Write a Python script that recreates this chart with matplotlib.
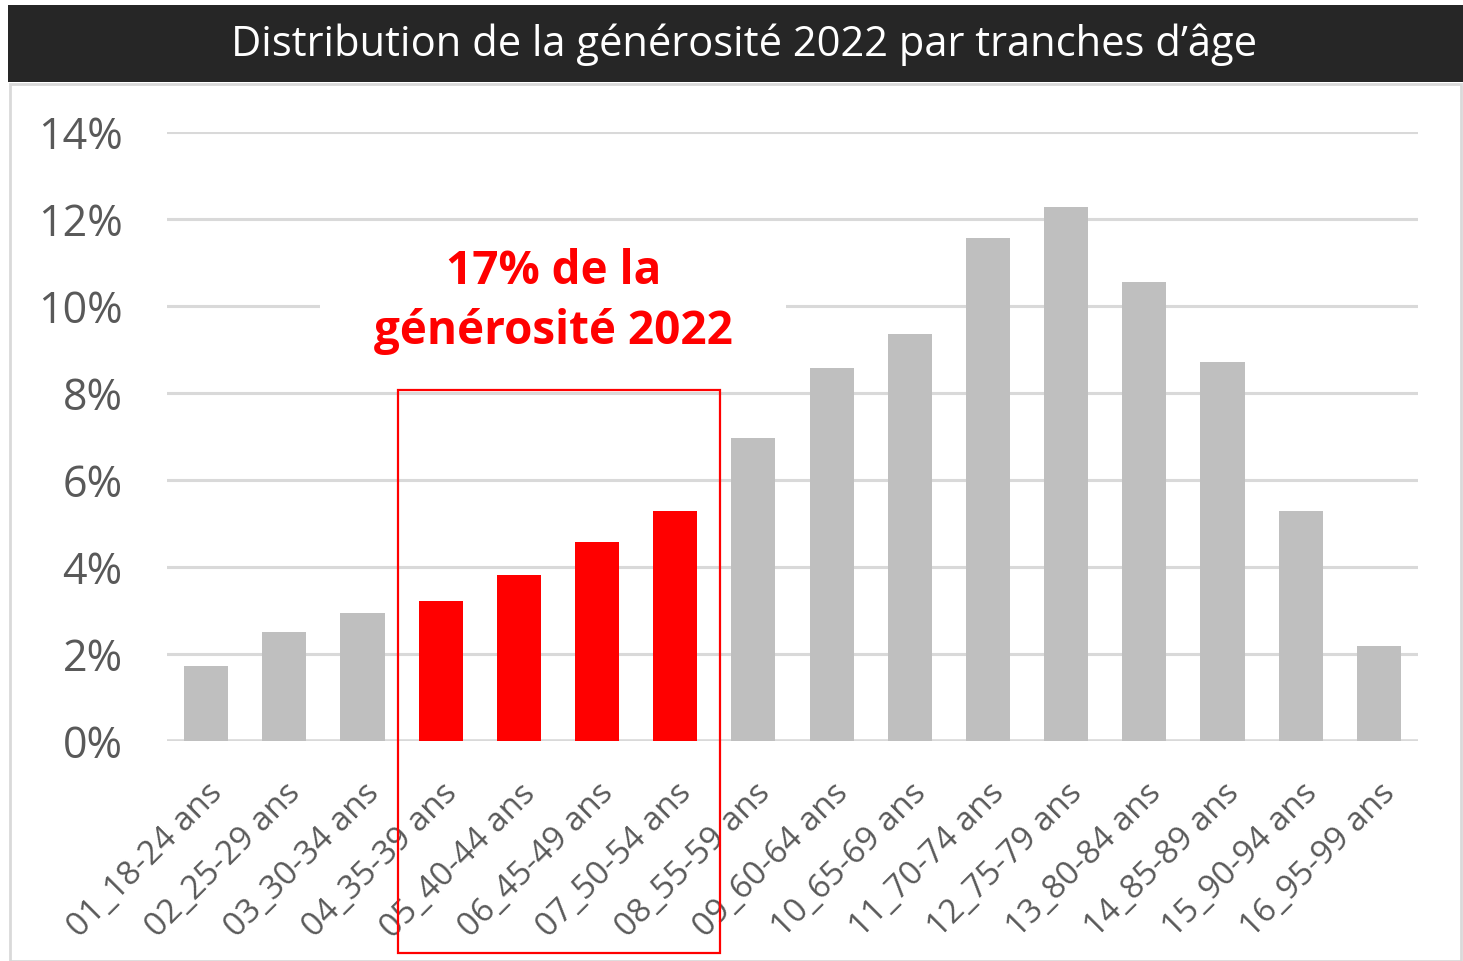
#!/usr/bin/env python3
"""Distribution de la générosité 2022 par tranches d'âge - bar chart."""

import matplotlib
matplotlib.use("Agg")
import matplotlib.pyplot as plt
from matplotlib.patches import Rectangle
from matplotlib.transforms import ScaledTranslation

# Data
age_labels = [
    "01_18-24 ans", "02_25-29 ans", "03_30-34 ans", "04_35-39 ans",
    "05_40-44 ans", "06_45-49 ans", "07_50-54 ans", "08_55-59 ans",
    "09_60-64 ans", "10_65-69 ans", "11_70-74 ans", "12_75-79 ans",
    "13_80-84 ans", "14_85-89 ans", "15_90-94 ans", "16_95-99 ans",
]
share_pct = [1.72, 2.51, 2.94, 3.22, 3.82, 4.57, 5.29, 6.97,
             8.57, 9.36, 11.56, 12.28, 10.55, 8.71, 5.29, 2.18]
highlighted = [3, 4, 5, 6]
y_ticks = [0, 2, 4, 6, 8, 10, 12, 14]

title = "Distribution de la générosité 2022 par tranches d’âge"
note = "17% de la\ngénérosité 2022"

GREY = "#bfbfbf"
RED = "#ff0000"
GRID = "#d9d9d9"
TEXT = "#595959"

plt.rcParams["font.family"] = ["Open Sans", "DejaVu Sans"]

W, H = 1463, 961
fig = plt.figure(figsize=(W / 100, H / 100), dpi=100)

# title bar and outer frame (outline only, so the axes stay visible)
fig.patches.append(Rectangle((8 / W, 1 - 82 / H), (W - 8) / W, 77 / H,
                             transform=fig.transFigure, facecolor="#262626",
                             edgecolor="none", zorder=0))
fig.patches.append(Rectangle((10 / W, 0), (W - 12) / W, (H - 84) / H,
                             transform=fig.transFigure, facecolor="none",
                             edgecolor=GRID, linewidth=2, zorder=0))
fig.text(744 / W, 1 - 45 / H, title, color="white", fontsize=30,
         ha="center", va="center")

ax = fig.add_axes([167 / W, 220 / H, (1418 - 167) / W, (741 - 132) / H])
ax.set_facecolor("none")

x = list(range(len(age_labels)))
colors = [RED if i in highlighted else GREY for i in x]
ax.bar(x, share_pct, width=0.565, color=colors, zorder=3)

ax.set_xlim(-0.5, len(age_labels) - 0.5)
ax.set_ylim(0, 14)
ax.set_yticks(y_ticks)
ax.set_yticklabels([f"{t}%" for t in y_ticks], fontsize=31, color=TEXT)
ax.set_xticks(x)
ax.set_xticklabels(age_labels, rotation=45, ha="right", va="top",
                   rotation_mode="anchor", fontsize=24, color=TEXT)
shift = ScaledTranslation(6 / 100, 0, fig.dpi_scale_trans)
for lbl in ax.get_xticklabels():
    lbl.set_transform(lbl.get_transform() + shift)
ax.tick_params(axis="both", length=0)
ax.tick_params(axis="y", pad=32)
ax.tick_params(axis="x", pad=26)
for side in ax.spines:
    ax.spines[side].set_visible(False)
ax.yaxis.grid(True, color=GRID, linewidth=2.2, zorder=0)
ax.set_axisbelow(True)
ax.axhline(0, color=GRID, linewidth=2.6, zorder=2)

# white patch behind the annotation that cuts the 10% gridline
ax.add_patch(Rectangle((1.46, 8.6), 5.96, 3.0, facecolor="white",
                       edgecolor="none", zorder=1))
ax.text(4.44, 10.1, note, color=RED, fontsize=33, fontweight="bold",
        ha="center", va="center", linespacing=1.35, zorder=4)

# red frame around the highlighted age bands
ax.add_patch(Rectangle((2.46, -4.87), 4.11, 12.94, facecolor="none",
                       edgecolor=RED, linewidth=1.6, clip_on=False, zorder=5))

fig.savefig("out.png", dpi=100)
